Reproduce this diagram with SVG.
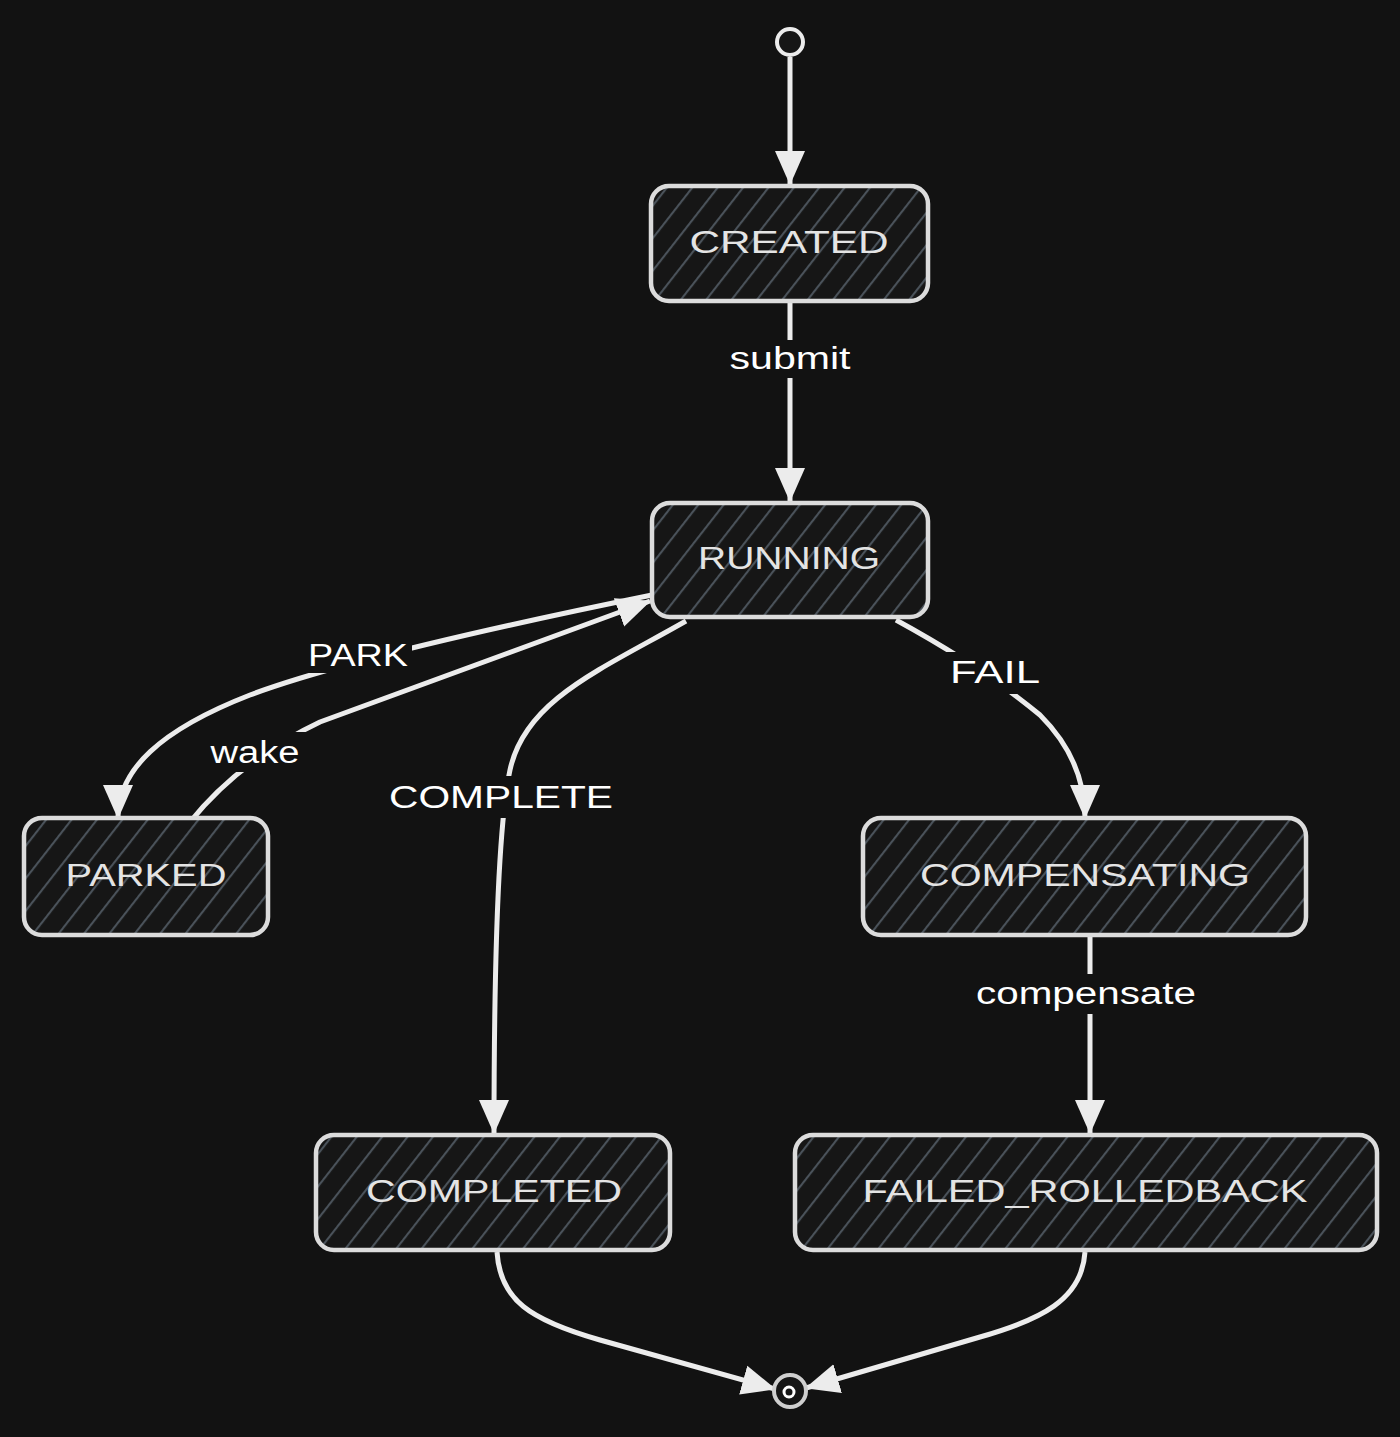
<svg xmlns="http://www.w3.org/2000/svg" width="1400" height="1437" viewBox="0 0 1400 1437">
<defs>
<pattern id="hatch" patternUnits="userSpaceOnUse" width="20" height="20" patternTransform="rotate(38)">
<line x1="1" y1="0" x2="1" y2="20" stroke="#4a525a" stroke-width="2.2"/>
</pattern>
<marker id="arr" viewBox="0 0 34 32" refX="33" refY="16" markerWidth="34" markerHeight="32" markerUnits="userSpaceOnUse" orient="auto">
<path d="M0,1 L34,16 L0,31 Z" fill="#ececec"/>
</marker>
<style>
.node rect.bg{fill:#161616}
.node rect.h{fill:url(#hatch);stroke:#dcdcdc;stroke-width:4.5}
.node text{font-family:"Liberation Sans","DejaVu Sans",sans-serif;font-size:32px;fill:#e4e4e4;text-anchor:middle;dominant-baseline:central}
.edge{fill:none;stroke:#ececec;stroke-width:5;marker-end:url(#arr)}
.lbl rect{fill:#121212}
.lbl text{font-family:"Liberation Sans","DejaVu Sans",sans-serif;font-size:31px;fill:#ffffff;text-anchor:middle;dominant-baseline:central}
</style>
</defs>
<rect width="1400" height="1437" fill="#121212"/>

<g id="connectors">
<path class="edge" d="M790,57 L790,184"/>
<path class="edge" d="M790,303 L790,501"/>
<path class="edge" d="M652,595 C 480,630 330,665 250,695 C 160,730 118,770 118,818"/>
<path class="edge" d="M190,822 Q 240,760 320,722 L650,601"/>
<path class="edge" d="M686,621 C 600,670 525,700 510,770 C 497,830 494,1000 494,1133"/>
<path class="edge" d="M896,620 C 960,655 1010,690 1040,715 C 1070,745 1085,780 1085,818"/>
<path class="edge" d="M1090,937 L1090,1133"/>
<path class="edge" d="M497,1252 C 500,1300 530,1320 600,1340 L775,1389"/>
<path class="edge" d="M1085,1252 C 1082,1300 1040,1320 980,1337 L806,1388"/>
<g class="lbl">
<rect x="724" y="340" width="132" height="38"/><text x="790" y="358" textLength="121" lengthAdjust="spacingAndGlyphs">submit</text>
<rect x="304" y="637" width="108" height="36"/><text x="358" y="655" textLength="100" lengthAdjust="spacingAndGlyphs">PARK</text>
<rect x="206" y="732" width="100" height="40"/><text x="255" y="752" textLength="89" lengthAdjust="spacingAndGlyphs">wake</text>
<rect x="383" y="776" width="236" height="42"/><text x="501" y="797" textLength="224" lengthAdjust="spacingAndGlyphs">COMPLETE</text>
<rect x="944" y="652" width="102" height="42"/><text x="995" y="672" textLength="90" lengthAdjust="spacingAndGlyphs">FAIL</text>
<rect x="970" y="974" width="232" height="40"/><text x="1086" y="993" textLength="220" lengthAdjust="spacingAndGlyphs">compensate</text>
</g>
</g>

<g id="start">
<circle cx="790" cy="42" r="13" fill="#161616" stroke="#ececec" stroke-width="4"/>
</g>
<g id="end">
<circle cx="790" cy="1391" r="16" fill="#161616" stroke="#cfcfcf" stroke-width="4"/>
<circle cx="789" cy="1392" r="5" fill="#161616" stroke="#ffffff" stroke-width="3"/>
</g>

<g id="CREATED" class="node">
<rect class="bg" x="651" y="186" width="277" height="115" rx="18"/>
<rect class="h" x="651" y="186" width="277" height="115" rx="18"/>
<text x="789" y="242" textLength="199" lengthAdjust="spacingAndGlyphs">CREATED</text>
</g>
<g id="RUNNING" class="node">
<rect class="bg" x="652" y="503" width="276" height="114" rx="18"/>
<rect class="h" x="652" y="503" width="276" height="114" rx="18"/>
<text x="789" y="558" textLength="182" lengthAdjust="spacingAndGlyphs">RUNNING</text>
</g>
<g id="PARKED" class="node">
<rect class="bg" x="24" y="818" width="244" height="117" rx="18"/>
<rect class="h" x="24" y="818" width="244" height="117" rx="18"/>
<text x="146" y="875" textLength="161" lengthAdjust="spacingAndGlyphs">PARKED</text>
</g>
<g id="COMPENSATING" class="node">
<rect class="bg" x="863" y="818" width="443" height="117" rx="18"/>
<rect class="h" x="863" y="818" width="443" height="117" rx="18"/>
<text x="1085" y="875" textLength="330" lengthAdjust="spacingAndGlyphs">COMPENSATING</text>
</g>
<g id="COMPLETED" class="node">
<rect class="bg" x="316" y="1135" width="354" height="115" rx="18"/>
<rect class="h" x="316" y="1135" width="354" height="115" rx="18"/>
<text x="494" y="1191" textLength="256" lengthAdjust="spacingAndGlyphs">COMPLETED</text>
</g>
<g id="FAILED_ROLLEDBACK" class="node">
<rect class="bg" x="795" y="1135" width="582" height="115" rx="18"/>
<rect class="h" x="795" y="1135" width="582" height="115" rx="18"/>
<text x="1085" y="1191" textLength="445" lengthAdjust="spacingAndGlyphs">FAILED_ROLLEDBACK</text>
</g>
</svg>
